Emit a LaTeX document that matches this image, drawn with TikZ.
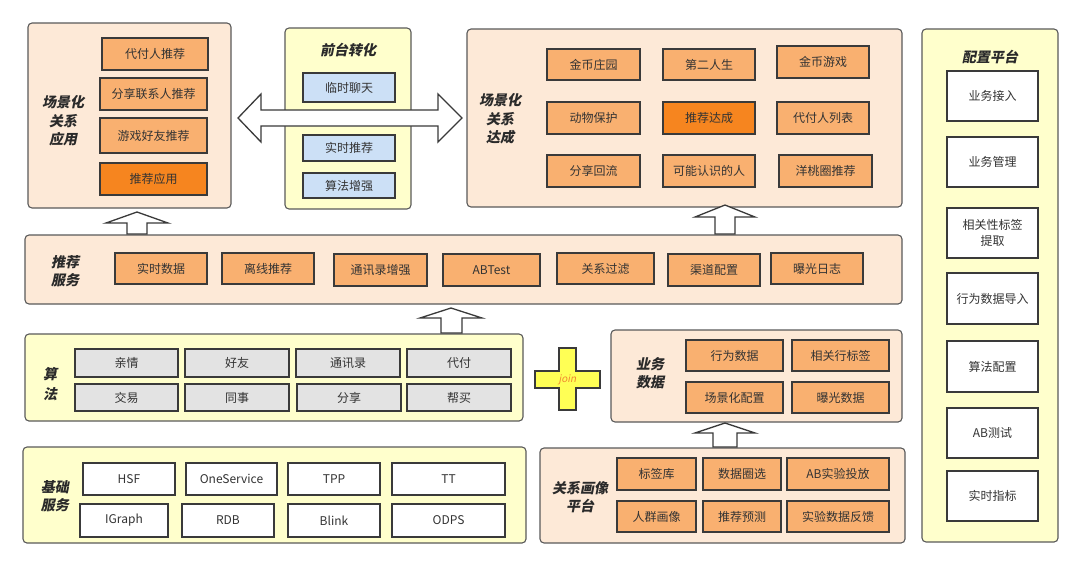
\documentclass[tikz,border=0pt]{standalone}
\usepackage{fontspec}
\setmainfont{Noto Sans CJK SC}
\newfontfamily\labfont{Noto Sans CJK SC}[FakeSlant=0.2]
\definecolor{peach}{HTML}{FDE9D7}
\definecolor{orng}{HTML}{F9B070}
\definecolor{dorng}{HTML}{F6851F}
\definecolor{lyel}{HTML}{FFFFCC}
\definecolor{lblue}{HTML}{CCE0F6}
\definecolor{lgray}{HTML}{E3E3E3}
\definecolor{pbord}{HTML}{5A5A5A}
\definecolor{bbord}{HTML}{3A3A3A}
\definecolor{txt}{HTML}{333333}
\definecolor{labtxt}{HTML}{2A2A2A}
\definecolor{crossy}{HTML}{FFFF55}
\definecolor{joinc}{HTML}{F08A30}
\newcommand\bx[7]{\node[#1, minimum width={#5-#3}, minimum height={#6-#4}] (#2) at ({(#3+#5)/2},{(#4+#6)/2}) {#7};}
\begin{document}
\begin{tikzpicture}[x=1pt,y=-1pt,
  panel/.style={draw=pbord, line width=1.1pt, rounded corners=4pt, inner sep=0pt, outer sep=0pt},
  ppeach/.style={panel, fill=peach},
  pyel/.style={panel, fill=lyel},
  box/.style={draw=bbord, line width=1.3pt, inner sep=0pt, outer sep=0pt, align=center, text=txt, font=\fontsize{12}{16}\selectfont},
  obox/.style={box, fill=orng},
  dbox/.style={box, fill=dorng},
  bbox/.style={box, fill=lblue},
  gbox/.style={box, fill=lgray},
  wbox/.style={box, fill=white},
  lbl/.style={inner sep=0pt, align=center, text=labtxt, font=\labfont\bfseries\fontsize{14}{18.5}\selectfont},
  blockarrow/.style={draw=bbord, fill=white, line width=1.3pt, line join=miter}
]
\useasboundingbox (0,0) rectangle (1080,566);
\fill[white] (0,0) rectangle (1080,566);

% panels
\bx{ppeach}{pA}{28}{23}{231}{208}{}
\bx{pyel}{pB}{285}{28}{411}{209}{}
\bx{ppeach}{pC}{467}{29}{902}{207}{}
\bx{ppeach}{pR}{25}{235}{902}{304}{}
\bx{pyel}{pAlg}{25}{334}{523}{421}{}
\bx{ppeach}{pBiz}{611}{330}{902}{422}{}
\bx{pyel}{pBase}{23}{447}{526}{543}{}
\bx{ppeach}{pPor}{540}{448}{905}{543}{}
\bx{pyel}{pCfg}{922}{29}{1058}{542}{}

% block arrows
\draw[blockarrow] (238,118) -- (261,94) -- (261,110) -- (438,110) -- (438,94) -- (462,118) -- (438,142) -- (438,126) -- (261,126) -- (261,142) -- cycle;
\draw[blockarrow] (137,212) -- (168,223) -- (147,223) -- (147,234) -- (127,234) -- (127,223) -- (106,223) -- cycle;
\draw[blockarrow] (725,205) -- (755,217) -- (735,217) -- (735,234) -- (715,234) -- (715,217) -- (695,217) -- cycle;
\draw[blockarrow] (451,308) -- (482,318) -- (462,318) -- (462,333) -- (441,333) -- (441,318) -- (420,318) -- cycle;
\draw[blockarrow] (725,423) -- (755,433) -- (737,433) -- (737,447) -- (713,447) -- (713,433) -- (695,433) -- cycle;

% join cross
\draw[draw=bbord, fill=crossy, line width=1.3pt, line join=miter] (559,348) -- (576,348) -- (576,371) -- (600,371) -- (600,388) -- (576,388) -- (576,410) -- (559,410) -- (559,388) -- (535,388) -- (535,371) -- (559,371) -- cycle;
\node[inner sep=0pt, text=joinc, font=\labfont\fontsize{10}{12}\selectfont] (join) at (567.5,379.5) {join};

% labels
\node[lbl] (lA) at (63,121) {场景化\\关系\\应用};
\node[lbl] (lB) at (348,50) {前台转化};
\node[lbl] (lC) at (500,119) {场景化\\关系\\达成};
\node[lbl] (lR) at (65,271) {推荐\\服务};
\node[lbl, font=\labfont\bfseries\fontsize{14}{20}\selectfont] (lAlg) at (50,384) {算\\法};
\node[lbl] (lBiz) at (650,373) {业务\\数据};
\node[lbl] (lPor) at (580,497) {关系画像\\平台};
\node[lbl] (lBase) at (55,496) {基础\\服务};
\node[lbl] (lCfg) at (990,57) {配置平台};

% 场景化关系应用
\bx{obox}{a1}{102}{38}{208}{70}{代付人推荐}
\bx{obox}{a2}{100}{78}{207}{110}{分享联系人推荐}
\bx{obox}{a3}{100}{118}{207}{153}{游戏好友推荐}
\bx{dbox}{a4}{100}{163}{207}{195}{推荐应用}

% 前台转化
\bx{bbox}{b1}{303}{73}{395}{102}{临时聊天}
\bx{bbox}{b2}{303}{135}{395}{161}{实时推荐}
\bx{bbox}{b3}{303}{173}{395}{198}{算法增强}

% 场景化关系达成
\bx{obox}{c1}{547}{49}{640}{80}{金币庄园}
\bx{obox}{c2}{663}{49}{755}{80}{第二人生}
\bx{obox}{c3}{777}{46}{869}{78}{金币游戏}
\bx{obox}{c4}{547}{102}{640}{134}{动物保护}
\bx{dbox}{c5}{663}{102}{755}{134}{推荐达成}
\bx{obox}{c6}{777}{102}{869}{134}{代付人列表}
\bx{obox}{c7}{547}{155}{640}{187}{分享回流}
\bx{obox}{c8}{663}{155}{755}{187}{可能认识的人}
\bx{obox}{c9}{779}{155}{872}{187}{洋桃圈推荐}

% 推荐服务
\bx{obox}{r1}{115}{253}{207}{284}{实时数据}
\bx{obox}{r2}{222}{253}{314}{284}{离线推荐}
\bx{obox}{r3}{334}{254}{427}{286}{通讯录增强}
\bx{obox}{r4}{443}{254}{540}{286}{ABTest}
\bx{obox}{r5}{557}{253}{654}{284}{关系过滤}
\bx{obox}{r6}{668}{254}{760}{286}{渠道配置}
\bx{obox}{r7}{771}{253}{863}{284}{曝光日志}

% 算法
\bx{gbox}{g1}{75}{349}{178}{377}{亲情}
\bx{gbox}{g2}{185}{349}{289}{377}{好友}
\bx{gbox}{g3}{296}{349}{400}{377}{通讯录}
\bx{gbox}{g4}{407}{349}{511}{377}{代付}
\bx{gbox}{g5}{75}{384}{178}{411}{交易}
\bx{gbox}{g6}{185}{384}{289}{411}{同事}
\bx{gbox}{g7}{297}{384}{401}{411}{分享}
\bx{gbox}{g8}{407}{384}{511}{411}{帮买}

% 业务数据
\bx{obox}{d1}{686}{340}{783}{371}{行为数据}
\bx{obox}{d2}{792}{340}{889}{371}{相关行标签}
\bx{obox}{d3}{686}{382}{783}{413}{场景化配置}
\bx{obox}{d4}{792}{382}{889}{413}{曝光数据}

% 关系画像平台
\bx{obox}{p1}{617}{458}{696}{490}{标签库}
\bx{obox}{p2}{703}{458}{781}{490}{数据圈选}
\bx{obox}{p3}{787}{458}{889}{490}{AB实验投放}
\bx{obox}{p4}{617}{501}{696}{532}{人群画像}
\bx{obox}{p5}{703}{501}{781}{532}{推荐预测}
\bx{obox}{p6}{787}{501}{889}{532}{实验数据反馈}

% 基础服务
\bx{wbox}{s1}{83}{463}{175}{495}{HSF}
\bx{wbox}{s2}{186}{463}{277}{495}{OneService}
\bx{wbox}{s3}{288}{463}{380}{495}{TPP}
\bx{wbox}{s4}{392}{463}{505}{495}{TT}
\bx{wbox}{s5}{80}{504}{168}{537}{IGraph}
\bx{wbox}{s6}{182}{504}{274}{537}{RDB}
\bx{wbox}{s7}{288}{504}{380}{537}{Blink}
\bx{wbox}{s8}{392}{504}{505}{537}{ODPS}

% 配置平台
\bx{wbox}{f1}{947}{71}{1038}{121}{业务接入}
\bx{wbox}{f2}{947}{137}{1038}{187}{业务管理}
\bx{wbox}{f3}{947}{208}{1038}{258}{相关性标签\\提取}
\bx{wbox}{f4}{947}{273}{1038}{324}{行为数据导入}
\bx{wbox}{f5}{947}{341}{1038}{392}{算法配置}
\bx{wbox}{f6}{947}{408}{1038}{458}{AB测试}
\bx{wbox}{f7}{947}{471}{1038}{521}{实时指标}
\end{tikzpicture}
\end{document}
